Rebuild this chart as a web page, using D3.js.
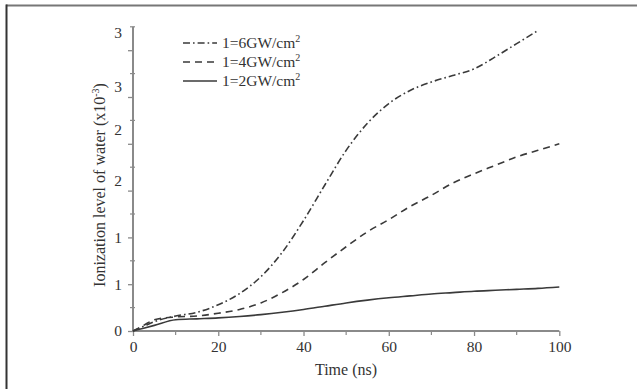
<!DOCTYPE html>
<html><head><meta charset="utf-8">
<script src="https://cdn.jsdelivr.net/npm/d3@7"></script>
<style>body{margin:0;background:#fff}svg{display:block}text{font-family:"Liberation Serif","Times New Roman",serif;fill:#333}</style>
</head><body><svg id="c" width="637" height="389"></svg>
<script>
const times = [0,2.5,5,10,15,20,25,30,35,40,45,50,55,60,65,70,75,80,85,90,95,100];
const gw6 = [0,0.05,0.1,0.16,0.2,0.28,0.4,0.58,0.84,1.18,1.56,1.93,2.22,2.43,2.57,2.66,2.73,2.8,2.93,3.07,3.21,null];
const gw4 = [0,0.06,0.12,0.15,0.16,0.19,0.23,0.3,0.41,0.55,0.73,0.9,1.06,1.19,1.33,1.45,1.58,1.68,1.77,1.86,1.93,2.0];
const gw2 = [0,0.03,0.06,0.12,0.13,0.14,0.155,0.175,0.2,0.23,0.265,0.3,0.33,0.355,0.375,0.395,0.41,0.425,0.435,0.445,0.455,0.47];
const seriesNames = ["1=6GW/cm", "1=4GW/cm", "1=2GW/cm"];
const xTicks = [0,20,40,60,80,100];
const xMinor = [10,30,50,70,90];
const yMajor = [0,0.5,1,1.5,2,2.5,3];
const yMinor = [0.25,0.75,1.25,1.75,2.25,2.75,3.25];
const yLabelText = ["0","1","1","2","2","3","3"];
const yLabelAt = [0,0.5,1.0,1.61,2.15,2.61,3.19];

const svg = d3.select("#c");
const x = d3.scaleLinear().domain([0,100]).range([133,559.3]);
const y = d3.scaleLinear().domain([0,3.25]).range([331,26.8]);

// frame
svg.append("line").attr("x1",6).attr("x2",637).attr("y1",5.5).attr("y2",5.5).attr("stroke","#777").attr("stroke-width",2.2);
svg.append("line").attr("x1",6.5).attr("x2",6.5).attr("y1",4.5).attr("y2",389).attr("stroke","#333").attr("stroke-width",2);

const axCol = "#8a8a8a";
const fs = 15.5;
// x axis
const gx = svg.append("g").attr("transform","translate(0,331)");
gx.call(d3.axisBottom(x).tickValues(xTicks).tickSize(5).tickPadding(5).tickFormat(d3.format("d")));
gx.select(".domain").attr("stroke",axCol).attr("stroke-width",2).attr("d","M133,0H559.3");
gx.selectAll(".tick line").attr("stroke",axCol).attr("stroke-width",1.3);
gx.selectAll(".tick text").attr("font-size",fs).style("font-family","Liberation Serif").attr("fill","#333");
gx.selectAll("line.mn").data(xMinor).enter().append("line").attr("class","mn")
  .attr("x1",d=>x(d)).attr("x2",d=>x(d)).attr("y1",0).attr("y2",4).attr("stroke",axCol).attr("stroke-width",1.2);

// y axis
const gy = svg.append("g").attr("transform","translate(133,0)");
gy.call(d3.axisLeft(y).tickValues(yMajor).tickSize(5).tickFormat(""));
gy.select(".domain").attr("stroke",axCol).attr("stroke-width",2).attr("d","M0,331V26.8");
gy.selectAll(".tick line").attr("stroke",axCol).attr("stroke-width",1.3);
gy.selectAll("line.mn").data(yMinor).enter().append("line").attr("class","mn")
  .attr("x1",-3).attr("x2",2).attr("y1",d=>y(d)).attr("y2",d=>y(d)).attr("stroke",axCol).attr("stroke-width",1.2);
gy.selectAll("text.yl").data(yLabelText).enter().append("text").attr("class","yl")
  .attr("x",-11).attr("y",(d,i)=>y(yLabelAt[i])).attr("dy","0.35em").attr("text-anchor","end")
  .attr("font-size",fs).text(d=>d);

// axis titles
svg.append("text").attr("x",346).attr("y",375).attr("text-anchor","middle").attr("font-size",16).text("Time (ns)");
const yt = svg.append("text").attr("transform","translate(105,185) rotate(-90)").attr("text-anchor","middle").attr("font-size",16);
yt.append("tspan").text("Ionization level of water (x10");
yt.append("tspan").attr("dy",-6).attr("font-size",10).text("-3");
yt.append("tspan").attr("dy",6).text(")");

// lines
const styles = [
  {data: gw6, dash: "7,3,1.6,3"},
  {data: gw4, dash: "7,5"},
  {data: gw2, dash: null}
];
const line = d3.line().defined(d=>d[1]!=null).x(d=>x(d[0])).y(d=>y(d[1])).curve(d3.curveMonotoneX);
styles.forEach(s=>{
  const pts = times.map((t,i)=>[t,s.data[i]]);
  const p = svg.append("path").attr("d",line(pts)).attr("fill","none").attr("stroke","#3a3a3a").attr("stroke-width",1.6);
  if (s.dash) p.attr("stroke-dasharray",s.dash);
});

// legend
const ly = [43,62,81];
styles.forEach((s,i)=>{
  const l = svg.append("line").attr("x1",183).attr("x2",217).attr("y1",ly[i]).attr("y2",ly[i]).attr("stroke","#3a3a3a").attr("stroke-width",1.6);
  if (s.dash) l.attr("stroke-dasharray",s.dash);
  const t = svg.append("text").attr("x",222).attr("y",ly[i]).attr("dy","0.33em").attr("font-size",15.5);
  t.append("tspan").text(seriesNames[i]);
  t.append("tspan").attr("dy",-6).attr("font-size",10).text("2");
});
</script></body></html>
